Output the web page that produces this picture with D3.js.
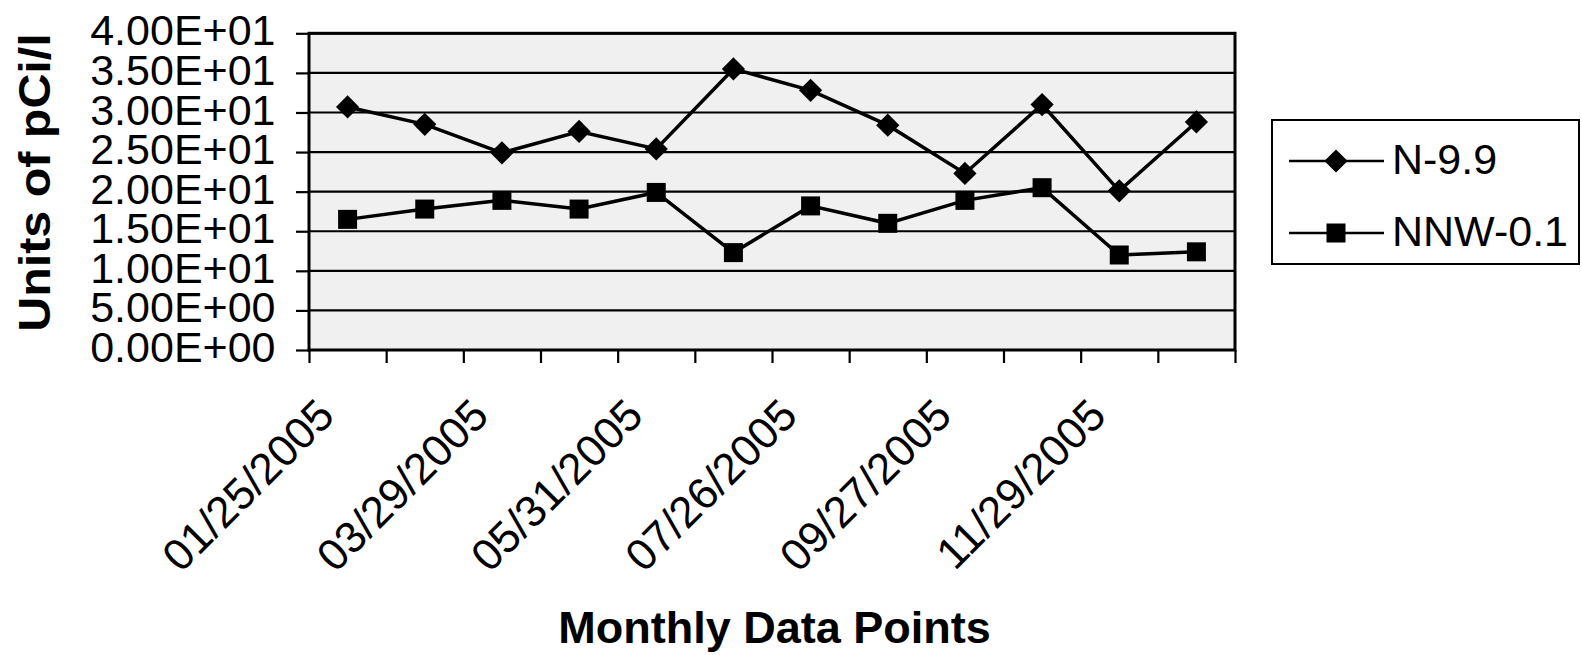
<!DOCTYPE html>
<html><head><meta charset="utf-8">
<script src="https://cdn.jsdelivr.net/npm/d3@7/dist/d3.min.js"></script>
<style>html,body{margin:0;padding:0;background:#fff;} svg{display:block;}</style>
</head><body>
<svg id="chart" width="1582" height="655"></svg>
<script>
// ---- data ----
const categoryLabels = ["01/25/2005","","03/29/2005","","05/31/2005","","07/26/2005","","09/27/2005","","11/29/2005",""];
const seriesNames = ["N-9.9","NNW-0.1"];
const valuesN99   = [30.7, 28.5, 24.9, 27.6, 25.4, 35.5, 32.8, 28.4, 22.3, 31.0, 20.1, 28.8];
const valuesNNW01 = [16.5, 17.8, 18.9, 17.8, 19.9, 12.3, 18.2, 16.0, 18.9, 20.5, 12.0, 12.4];
const yTickValues = [0, 5, 10, 15, 20, 25, 30, 35, 40];
const yTickLabels = ["0.00E+00","5.00E+00","1.00E+01","1.50E+01","2.00E+01","2.50E+01","3.00E+01","3.50E+01","4.00E+01"];
const yTitle = "Units of pCi/l";
const xTitle = "Monthly Data Points";

(function(){
// ---- layout ----
const svg = d3.select("#chart");
const pL = 309, pR = 1235, pT = 33.3, pB = 350;
const FONT = "'Liberation Sans', Arial, sans-serif";
const idx = d3.range(categoryLabels.length);
const x = d3.scaleBand().domain(idx).range([pL, pR]);
const xEdge = d3.scaleLinear().domain([0, idx.length]).range([pL, pR]);
const y = d3.scaleLinear().domain([0, 40]).range([pB, pT]);

// plot background
svg.append("rect").attr("x", pL).attr("y", pT).attr("width", pR-pL).attr("height", pB-pT)
  .attr("fill", "#f0f0f0");

// gridlines
svg.append("g").selectAll("line").data(yTickValues).join("line")
  .attr("x1", pL).attr("x2", pR).attr("y1", d=>y(d)).attr("y2", d=>y(d))
  .attr("stroke", "#000").attr("stroke-width", 2.2);

// y axis
const yAxis = svg.append("g").attr("transform", `translate(${pL},0)`)
  .call(d3.axisLeft(y).tickValues(yTickValues).tickSize(13).tickFormat(""));
yAxis.selectAll("line").attr("stroke", "#000").attr("stroke-width", 2.2);
yAxis.select(".domain").remove();
svg.append("g").selectAll("text").data(yTickValues).join("text")
  .attr("x", 275.5).attr("y", d => y(d))
  .attr("text-anchor", "end").attr("dy", "0.28em")
  .style("font-family", FONT).style("font-size", "43px").attr("fill", "#000")
  .text((d,i) => yTickLabels[i]);

// x axis ticks
const xAxis = svg.append("g").attr("transform", `translate(0,${pB})`)
  .call(d3.axisBottom(xEdge).tickValues(d3.range(idx.length+1)).tickSize(13).tickFormat(""));
xAxis.selectAll("line").attr("stroke", "#000").attr("stroke-width", 2.2);
xAxis.select(".domain").remove();

// x labels
svg.append("g").selectAll("text").data(idx.filter(i => categoryLabels[i] !== "")).join("text")
  .attr("transform", i => `translate(${x(i) + x.bandwidth()/2 - 11},418) rotate(-45)`)
  .attr("text-anchor", "end")
  .style("font-family", FONT).style("font-size", "44px").attr("fill", "#000")
  .text(i => categoryLabels[i]);

// plot border
svg.append("rect").attr("x", pL).attr("y", pT).attr("width", pR-pL).attr("height", pB-pT)
  .attr("fill", "none").attr("stroke", "#000").attr("stroke-width", 3);

// series
const line = d3.line().x((d,i) => x(i) + x.bandwidth()/2).y(d => y(d));
const series = [
  {name: seriesNames[0], values: valuesN99, symbol: "diamond"},
  {name: seriesNames[1], values: valuesNNW01, symbol: "square"}
];
const diamond = d3.symbol().type(d3.symbolSquare).size(270);
const square = d3.symbol().type(d3.symbolSquare).size(361);
function marker(sel, kind, cx, cy) {
  if (kind === "diamond") {
    sel.append("path").attr("d", diamond()).attr("transform", `translate(${cx},${cy}) rotate(45)`).attr("fill", "#000");
  } else {
    sel.append("path").attr("d", square()).attr("transform", `translate(${cx},${cy})`).attr("fill", "#000");
  }
}
series.forEach(s => {
  const g = svg.append("g");
  g.append("path").datum(s.values).attr("d", line).attr("fill", "none")
    .attr("stroke", "#000").attr("stroke-width", 3.5).attr("stroke-linejoin", "miter");
  s.values.forEach((v,i) => marker(g, s.symbol, x(i) + x.bandwidth()/2, y(v)));
});

// legend
const lg = svg.append("g");
lg.append("rect").attr("x", 1272).attr("y", 120).attr("width", 307).attr("height", 144)
  .attr("fill", "#fff").attr("stroke", "#000").attr("stroke-width", 2);
const legendRows = [161, 233];
series.forEach((s, i) => {
  const ly = legendRows[i];
  lg.append("line").attr("x1", 1289).attr("x2", 1384).attr("y1", ly).attr("y2", ly)
    .attr("stroke", "#000").attr("stroke-width", 2.5);
  marker(lg, s.symbol, 1336, ly);
  lg.append("text").attr("x", 1392).attr("y", ly).attr("dy", "0.3em")
    .style("font-family", FONT).style("font-size", "43px").attr("fill", "#000").text(s.name);
});

// axis titles
svg.append("text").attr("transform", "translate(50,182.5) rotate(-90) scale(1.1,1)")
  .attr("text-anchor", "middle")
  .style("font-family", FONT).style("font-size", "44px").style("font-weight", "bold").attr("fill", "#000")
  .text(yTitle);
svg.append("text").attr("x", 774.5).attr("y", 643).attr("text-anchor", "middle")
  .style("font-family", FONT).style("font-size", "45px").style("font-weight", "bold").attr("fill", "#000")
  .text(xTitle);
})();
</script>
</body></html>
